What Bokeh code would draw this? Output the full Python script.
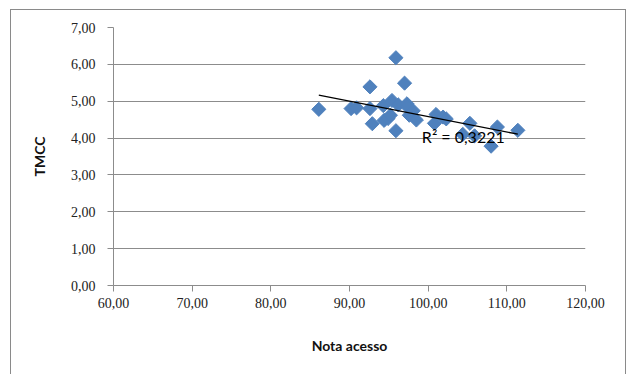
import numpy as np
from bokeh.plotting import figure
from bokeh.models import Label, FixedTicker, CustomJSTickFormatter
from bokeh.embed import file_html
from bokeh.resources import INLINE

nota_acesso = [86.1, 90.2, 90.9, 92.6, 92.6, 92.9, 94.3, 94.4, 94.9, 95.2, 95.4,
               95.9, 95.9, 96.2, 97.0, 97.3, 97.4, 97.6, 98.1, 98.5, 101.0, 100.8,
               101.9, 102.3, 105.3, 104.4, 105.9, 108.0, 108.8, 111.4]
tmcc = [4.78, 4.80, 4.82, 5.39, 4.80, 4.39, 4.88, 4.48, 4.53, 4.62, 5.02,
        6.18, 4.20, 4.90, 5.49, 4.93, 4.84, 4.62, 4.74, 4.49, 4.64, 4.40,
        4.57, 4.52, 4.40, 4.10, 4.06, 3.78, 4.30, 4.21]
x_ticks = [60, 70, 80, 90, 100, 110, 120]
y_ticks = [0, 1, 2, 3, 4, 5, 6, 7]
r2_text = "R\u00b2 = 0,3221"

p = figure(width=616, height=365, x_range=(60, 120), y_range=(0, 7),
           output_backend="svg", toolbar_location=None,
           min_border_left=102, min_border_right=42, min_border_top=17, min_border_bottom=90)
p.margin = (9, 0, 0, 10)
p.styles = {"border-left": "1px solid #8a8a8a", "border-top": "1px solid #8a8a8a",
            "border-right": "1px solid #8a8a8a"}
p.outline_line_color = None
p.background_fill_color = "white"
p.border_fill_color = "white"

fmt = CustomJSTickFormatter(code="return tick.toFixed(2).replace('.', ',');")
p.xaxis.ticker = FixedTicker(ticks=x_ticks)
p.yaxis.ticker = FixedTicker(ticks=y_ticks)
p.xaxis.formatter = fmt
p.yaxis.formatter = fmt
p.xgrid.grid_line_color = None
p.ygrid.grid_line_color = "#8c8c8c"
p.ygrid.grid_line_width = 1
for ax in (p.xaxis, p.yaxis):
    ax.axis_line_color = "#8c8c8c"
    ax.major_tick_line_color = "#8c8c8c"
    ax.major_tick_in = 0
    ax.major_tick_out = 6
    ax.minor_tick_line_color = None
    ax.major_label_text_font = "serif"
    ax.major_label_text_font_size = "14px"
    ax.major_label_text_font_style = "normal"
    ax.major_label_text_color = "#222222"
    ax.axis_label_text_font = "Lato"
    ax.axis_label_text_font_style = "bold"
    ax.axis_label_text_font_size = "14px"
    ax.axis_label_text_color = "#111111"
p.xaxis.axis_label = "Nota acesso"
p.yaxis.axis_label = "TMCC"
p.xaxis.major_label_standoff = 6
p.yaxis.major_label_standoff = 12
p.xaxis.axis_label_standoff = 26
p.yaxis.axis_label_standoff = 20

p.scatter(nota_acesso, tmcc, marker="square", size=10, angle=np.pi / 4,
          fill_color="#4F81BD", line_color="#4F81BD")

slope, intercept = np.polyfit(nota_acesso, tmcc, 1)
xs = [min(nota_acesso), max(nota_acesso)]
p.line(xs, [slope * v + intercept for v in xs], line_color="black", line_width=1.3)

p.add_layout(Label(x=99.2, y=4.05, text=r2_text, text_font="Lato",
                   text_font_size="16px", text_color="black", text_baseline="middle"))

open("out.html", "w").write(file_html(p, INLINE))
